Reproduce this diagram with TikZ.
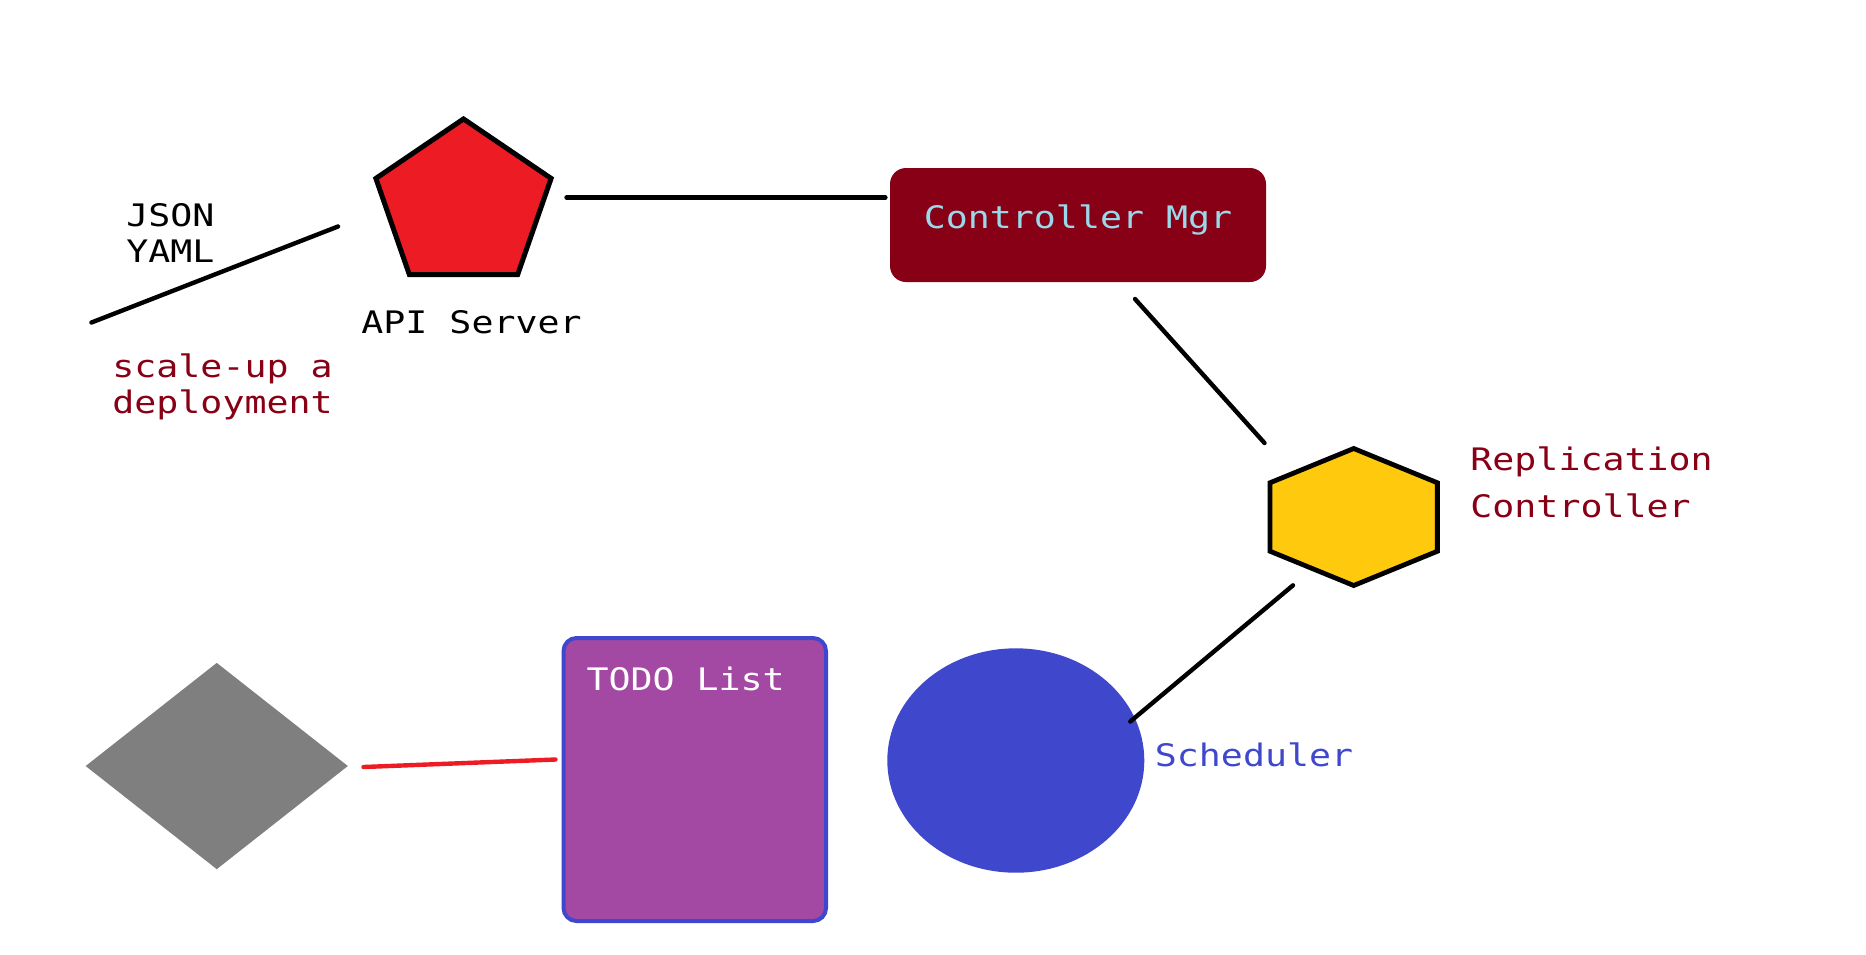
\documentclass[tikz,border=0pt]{standalone}
\usepackage{fontspec}
\newfontfamily\paintfont{DejaVu Sans Mono}[FakeStretch=1.18]
\usetikzlibrary{shapes.geometric}

\definecolor{paintRed}{HTML}{ED1C24}
\definecolor{paintDarkRed}{HTML}{880015}
\definecolor{paintGold}{HTML}{FFC90E}
\definecolor{paintIndigo}{HTML}{3F48CC}
\definecolor{paintPurple}{HTML}{A349A4}
\definecolor{paintGray}{HTML}{7F7F7F}
\definecolor{paintTurquoise}{HTML}{99D9EA}

\tikzset{
    wire/.style={line width=2.2pt, line cap=round},
    txt/.style={inner sep=0pt, align=left, font=\paintfont\fontsize{15.5}{18}\selectfont},
}

\begin{document}
\begin{tikzpicture}[x=0.5pt, y=-0.5pt]
    \useasboundingbox (0,0) rectangle (1866,954);

    % shapes
    \node[regular polygon, regular polygon sides=5, minimum size=89pt, inner sep=0pt,
          xscale=1.035, yscale=0.967, draw, line width=2.5pt, fill=paintRed]   (API Server)     at (463.5,205)   {};
    \node[txt, rectangle, rounded corners=8pt, fill=paintDarkRed, text=paintTurquoise,
          minimum width=188pt, text height=30pt, text depth=27pt]              (Controller Mgr) at (1078,225)    {Controller Mgr};
    \node[regular polygon, regular polygon sides=6, shape border rotate=30, minimum size=68.5pt,
          inner sep=0pt, xscale=1.41, draw, line width=2.4pt, fill=paintGold]  (Replication)    at (1353.7,517)  {};
    \node[ellipse, minimum width=128.5pt, minimum height=112.2pt, inner sep=0pt,
          fill=paintIndigo]                                                    (Scheduler)      at (1015.8,760.5) {};
    \node[diamond, minimum width=131.25pt, minimum height=103.3pt, inner sep=0pt,
          fill=paintGray]                                                      (Worker)         at (216.75,766)  {};
    \node[txt, rounded corners=6.5pt, draw=paintIndigo, line width=2pt, fill=paintPurple, text=white,
          inner xsep=11.5pt, text height=26.35pt, text depth=115.15pt]
                                                                               (TODO List)      at (694.75,779.5) {\makebox[108.25pt][l]{TODO List}};

    % labels
    \node[txt, anchor=north west]                       (formats)     at (126,202.9)    {JSON\\YAML};
    \node[txt, anchor=north west, text=paintDarkRed]    (request)     at (112,353.4)    {scale-up a\\deployment};
    \node[txt, anchor=base west]                        (api label)   at (361,333)      {API Server};
    \node[txt, anchor=north west, text=paintDarkRed,
          font=\paintfont\fontsize{15.5}{23.65}\selectfont] (rc label) at (1470,446.4)   {Replication\\Controller};
    \node[txt, anchor=base west, text=paintIndigo]      (sched label) at (1154.5,766.7) {Scheduler};

    % connector ends
    \coordinate (input start) at (91.5,322.5);
    \coordinate (input end)   at (338,226.5);
    \coordinate (api out)     at (566.5,197.5);
    \coordinate (mgr in)      at (885.4,197.5);
    \coordinate (mgr out)     at (1135,299);
    \coordinate (rc in)       at (1264.5,443);
    \coordinate (rc out)      at (1293,585.3);
    \coordinate (sched in)    at (1130.3,721.5);
    \coordinate (worker out)  at (363.5,767);
    \coordinate (todo in)     at (555.5,759.5);

    \draw[wire] (input start) -- (input end);
    \draw[wire] (api out) -- (mgr in);
    \draw[wire] (mgr out) -- (rc in);
    \draw[wire] (rc out) -- (sched in);
    \draw[wire, paintRed] (worker out) -- (todo in);
\end{tikzpicture}
\end{document}
